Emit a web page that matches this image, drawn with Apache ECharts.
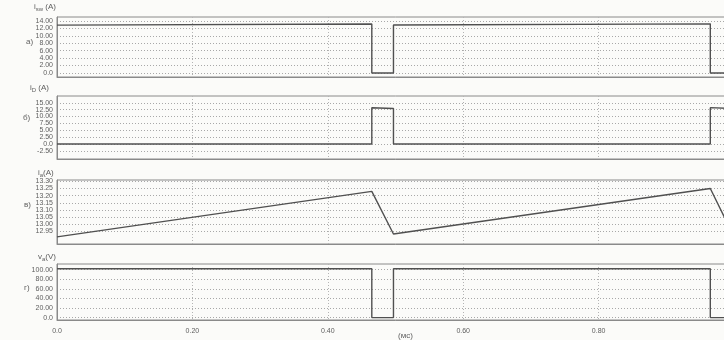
<!DOCTYPE html>
<html><head><meta charset="utf-8">
<script src="https://cdn.jsdelivr.net/npm/echarts@6/dist/echarts.min.js"></script>
<style>
html,body{margin:0;padding:0;background:#fbfbf9;overflow:hidden;width:724px;height:340px}
#c{width:745px;height:340px}
</style></head>
<body><div id="c"></div>
<script>
// switching instants (ms) for the step waveforms
const swTime = [0, 0.465, 0.465, 0.497, 0.497, 0.965, 0.965, 0.997, 0.997, 1.0];
const iSwitch = [12.91, 13.23, 0, 0, 12.93, 13.25, 0, 0, 12.94, 12.95];
const iDiode  = [0, 0, 13.23, 12.93, 0, 0, 13.25, 12.94, 0, 0];
const vArm    = [102, 102, 0, 0, 102, 102, 0, 0, 102, 102];
// armature current ripple
const iaTime  = [0, 0.465, 0.497, 0.965, 0.997, 1.0];
const iArm    = [12.91, 13.23, 12.93, 13.25, 12.94, 12.95];

const xTicks = [0, 0.2, 0.4, 0.6, 0.8, 1.0];
const ticksA = [0, 2, 4, 6, 8, 10, 12, 14];
const ticksB = [-2.5, 0, 2.5, 5, 7.5, 10, 12.5, 15];
const ticksC = [12.95, 13.0, 13.05, 13.1, 13.15, 13.2, 13.25, 13.3];
const ticksD = [0, 20, 40, 60, 80, 100];

const pair = (xs, ys) => xs.map((x, i) => [x, ys[i]]);

const GRAY = '#8a8a8a';
const LINE = '#505050';
const TXT = '#5e5e5e';
const FONT = 'Liberation Sans';

const panels = [
  {top: 17, h: 60, min: -1.1, max: 15.1, ticks: ticksA, data: pair(swTime, iSwitch)},
  {top: 96, h: 63, min: -5.5, max: 17.5, ticks: ticksB, data: pair(swTime, iDiode)},
  {top: 180, h: 64, min: 12.86, max: 13.31, ticks: ticksC, data: pair(iaTime, iArm)},
  {top: 264, h: 56, min: -5, max: 112, ticks: ticksD, data: pair(swTime, vArm)}
];

const fmtY = v => (v === 0 ? '0.0' : v.toFixed(2));
const fmtX = v => (v === 0 ? '0.0' : v === 1 ? '1.0' : v.toFixed(2));

const grids = [], xAxes = [], yAxes = [], series = [];
panels.forEach((p, k) => {
  grids.push({left: 57, width: 677, top: p.top, height: p.h});
  const last = k === panels.length - 1;
  xAxes.push({
    type: 'value', gridIndex: k, min: 0, max: 1.0,
    axisLine: {show: true, onZero: false, lineStyle: {color: GRAY, width: 1}},
    axisTick: {show: false, customValues: xTicks},
    axisLabel: {show: last, customValues: xTicks, formatter: fmtX, color: TXT,
                fontSize: 7, fontFamily: FONT, margin: 8},
    splitLine: {show: true, lineStyle: {color: '#b4b4b4', type: [1, 2], width: 1}}
  });
  yAxes.push({
    type: 'value', gridIndex: k, min: p.min, max: p.max,
    axisLine: {show: true, lineStyle: {color: GRAY, width: 1}},
    axisTick: {show: false, customValues: p.ticks},
    axisLabel: {customValues: p.ticks, formatter: fmtY, color: TXT,
                fontSize: 7, fontFamily: FONT, margin: 4},
    splitLine: {show: true, lineStyle: {color: '#a8a8a8', type: [1, 2], width: 1}}
  });
  series.push({
    type: 'line', xAxisIndex: k, yAxisIndex: k, data: p.data,
    symbol: 'none', lineStyle: {color: LINE, width: 1.4}, animation: false
  });
});

// outline of each plot box
const frames = panels.map(p => ({
  type: 'rect', shape: {x: 57, y: p.top, width: 677, height: p.h},
  style: {fill: 'none', stroke: GRAY, lineWidth: 1}, silent: true
}));

const rich = {
  b: {fontSize: 8, fontFamily: FONT, fill: TXT},
  s: {fontSize: 6, fontFamily: FONT, fill: TXT, padding: [5, 0, 0, 0]}
};
const label = (x, y, t) => ({type: 'text', left: x, top: y,
  style: {text: t, rich, fill: TXT, fontSize: 8, fontFamily: FONT}});

const texts = [
  label(34, 3, '{b|i}{s|sw}{b| (A)}'),
  label(30, 84, '{b|i}{s|D}{b| (A)}'),
  label(38, 169, '{b|i}{s|a}{b|(A)}'),
  label(38, 253, '{b|v}{s|a}{b|(V)}'),
  label(26, 38, '{b|а)}'),
  label(23, 114, '{b|б)}'),
  label(24, 201, '{b|в)}'),
  label(24, 284, '{b|г)}'),
  label(398, 332, '{b|(мс)}')
];

const chart = echarts.init(document.getElementById('c'), null, {renderer: 'canvas'});
chart.setOption({
  backgroundColor: '#fbfbf9',
  animation: false,
  grid: grids, xAxis: xAxes, yAxis: yAxes, series,
  graphic: frames.concat(texts)
});
</script>
</body></html>
